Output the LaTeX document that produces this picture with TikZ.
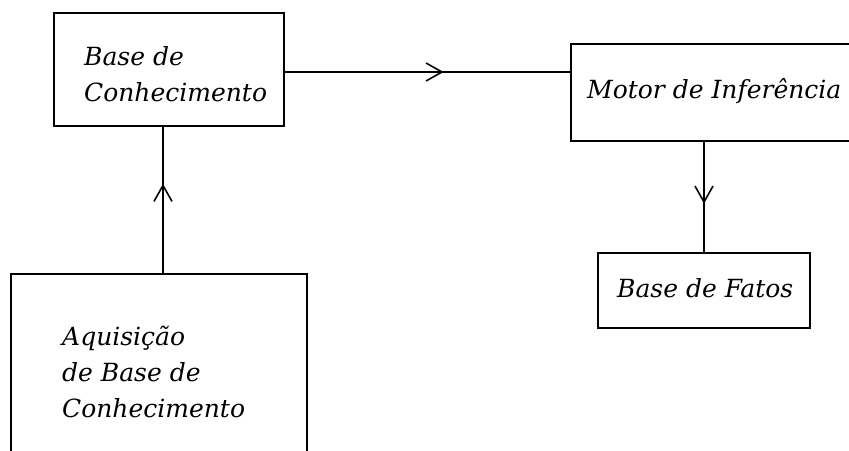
\documentclass[tikz,border=0pt]{standalone}
\usepackage{fontspec}
\setmainfont{DejaVu Serif}
\usetikzlibrary{decorations.markings}
\tikzset{
  box/.style={draw, line width=2pt, rectangle, inner sep=0pt, anchor=north west},
  lbl/.style={inner sep=0pt, anchor=base west, align=left,
    font=\fontsize{25}{36}\selectfont\itshape},
  conn/.style={line width=2pt},
  midtip/.style={postaction={decorate}, decoration={markings,
    mark=at position #1 with {\draw[line width=1.6pt] (-16,-9) -- (0,0) -- (-16,9);}}}
}
\begin{document}
\begin{tikzpicture}[x=1pt, y=-1pt]
  \useasboundingbox (0,0) rectangle (849,450);
  \fill[white] (0,0) rectangle (849,450);
  \clip (0,0) rectangle (849,450);

  % boxes
  \node[box, minimum width=230pt, minimum height=113pt] (bc) at (53,12) {};
  \node[box, minimum width=290pt, minimum height=97pt] (mi) at (570,43) {};
  \node[box, minimum width=212pt, minimum height=75pt] (bf) at (597,252) {};
  \node[box, minimum width=296pt, minimum height=200pt] (aq) at (10,273) {};

  % texts (base anchor sits on the last line)
  \node[lbl] (tbc) at (84,101) {Base de\\Conhecimento};
  \node[lbl] (tmi) at (587,98) {Motor de Inferência};
  \node[lbl] (tbf) at (617,297) {Base de Fatos};
  \node[lbl] (taq) at (62,417) {Aquisição\\de Base de\\Conhecimento};

  % connectors
  \coordinate (h0) at (283,72);
  \draw[conn, midtip=0.554] (h0) -- (h0 -| mi.west);
  \coordinate (v0) at (163,273);
  \draw[conn, midtip=0.60] (v0) -- (v0 |- bc.south);
  \coordinate (d0) at (704,140);
  \draw[conn, midtip=0.554] (d0) -- (d0 |- bf.north);
\end{tikzpicture}
\end{document}
